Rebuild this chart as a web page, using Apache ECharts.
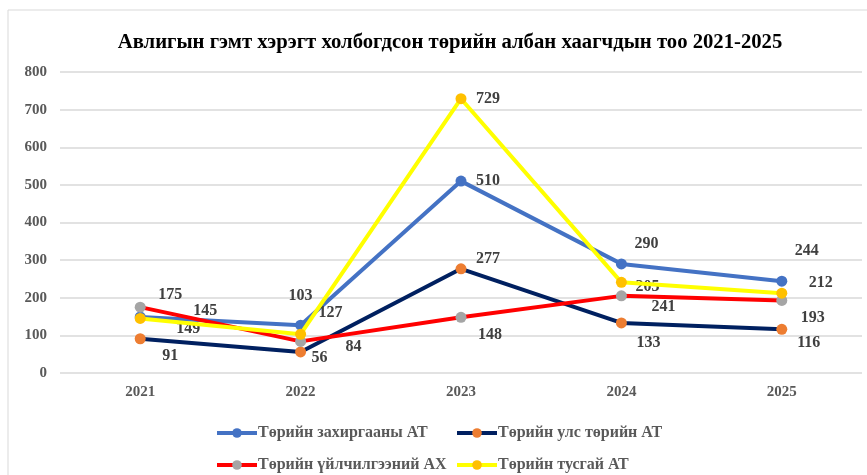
<!DOCTYPE html>
<html>
<head>
<meta charset="utf-8">
<script src="https://cdn.jsdelivr.net/npm/echarts@6/dist/echarts.min.js"></script>
<style>
  html, body { margin: 0; padding: 0; background: #fff; }
  #chart { width: 867px; height: 475px; }
</style>
</head>
<body>
<div id="chart"></div>
<script>
// categories and values
const years = ['2021', '2022', '2023', '2024', '2025']
const seriesNames = ['Төрийн захиргааны АТ', 'Төрийн улс төрийн АТ', 'Төрийн үйлчилгээний АХ', 'Төрийн тусгай АТ']
const zahirgaa = [149, 127, 510, 290, 244]
const ulsTur = [91, 56, 277, 133, 116]
const uilchilgee = [175, 84, 148, 205, 193]
const tusgai = [145, 103, 729, 241, 212]

// line colour, marker colour
const lineColors = ['#4472C4', '#002060', '#FF0000', '#FFFF00']
const markColors = ['#4472C4', '#ED7D31', '#A5A5A5', '#FFC000']

// label offsets (excel had hand-moved labels)
const labelOffsets = [
  [[48, 12], [30, -12], [27, 0], [25, -20], [25, -30]],
  [[30, 17], [19, 6], [27, -10], [27, 20], [27, 14]],
  [[30, -12], [53, 5], [29, 18], [26, -9], [31, 17]],
  [[65, -8], [0, -38], [27, 0], [42, 25], [39, -10]]
]

const font = '"Liberation Serif", "Times New Roman", serif'

function makeSeries (i, values) {
  return {
    name: seriesNames[i],
    type: 'line',
    data: values.map((v, j) => ({
      value: v,
      label: { offset: labelOffsets[i][j] }
    })),
    symbol: 'circle',
    symbolSize: 11,
    lineStyle: { color: lineColors[i], width: 4 },
    itemStyle: { color: markColors[i] },
    label: {
      show: true,
      position: 'inside',
      fontFamily: font,
      fontWeight: 'bold',
      fontSize: 16,
      color: '#404040'
    },
    emphasis: { disabled: true },
    z: 2 + i
  }
}

function legendAt (i, left, top) {
  return {
    data: [seriesNames[i]],
    left: left,
    top: top,
    itemWidth: 40,
    itemHeight: 12,
    itemGap: 0,
    lineStyle: { width: 4 },
    textStyle: { fontFamily: font, fontWeight: 'bold', fontSize: 16, color: '#595959', padding: [0, 0, 0, -4] }
  }
}

let chart = echarts.init(document.getElementById('chart'))
let option = {
  backgroundColor: '#fff',
  animation: false,
  title: {
    text: 'Авлигын гэмт хэрэгт холбогдсон төрийн албан хаагчдын тоо 2021-2025',
    left: 445,
    textAlign: 'center',
    top: 27,
    textStyle: { fontFamily: font, fontWeight: 'bold', fontSize: 20.7, color: '#000' }
  },
  graphic: [{
    type: 'rect',
    shape: { x: 8, y: 10, width: 900, height: 500 },
    style: { fill: 'none', stroke: '#d9d9d9', lineWidth: 1 },
    silent: true
  }],
  legend: [
    legendAt(0, 210, 420),
    legendAt(1, 450, 420),
    legendAt(2, 210, 452),
    legendAt(3, 450, 452)
  ],
  grid: { left: 60, right: 5, top: 72, bottom: 102 },
  xAxis: {
    type: 'category',
    data: years,
    boundaryGap: true,
    axisLine: { show: false },
    axisTick: { show: false },
    axisLabel: { fontFamily: font, fontWeight: 'bold', fontSize: 15, color: '#595959', margin: 12 }
  },
  yAxis: {
    type: 'value',
    min: 0,
    max: 800,
    interval: 100,
    axisLine: { show: false },
    axisTick: { show: false },
    splitLine: { lineStyle: { color: '#d9d9d9', width: 1.5 } },
    axisLabel: { fontFamily: font, fontWeight: 'bold', fontSize: 15, color: '#595959', margin: 13 }
  },
  series: [
    makeSeries(0, zahirgaa),
    makeSeries(1, ulsTur),
    makeSeries(2, uilchilgee),
    makeSeries(3, tusgai)
  ]
}
chart.setOption(option)
</script>
</body>
</html>
